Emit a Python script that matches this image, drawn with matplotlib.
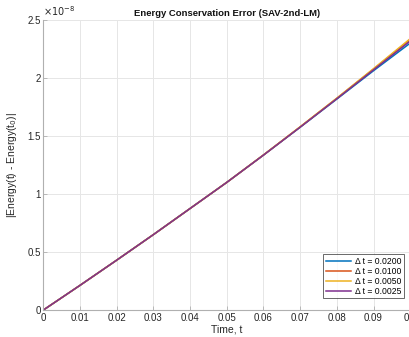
import matplotlib
matplotlib.use("Agg")
import matplotlib.pyplot as plt
from matplotlib.ticker import FuncFormatter, MultipleLocator

plt.rcParams['font.family'] = ['Liberation Sans', 'DejaVu Sans']

t = [0.0, 0.01, 0.02, 0.03, 0.04, 0.05, 0.06, 0.07, 0.08, 0.09, 0.10]
# values in units of 1e-8
err_dt0200 = [0.0, 0.213, 0.430, 0.650, 0.875, 1.100, 1.335, 1.575, 1.818, 2.062, 2.300]
err_dt0100 = [0.0, 0.213, 0.430, 0.650, 0.875, 1.100, 1.336, 1.578, 1.824, 2.076, 2.330]
err_dt0050 = [0.0, 0.213, 0.430, 0.650, 0.875, 1.100, 1.336, 1.579, 1.826, 2.080, 2.338]
err_dt0025 = [0.0, 0.213, 0.430, 0.650, 0.875, 1.100, 1.335, 1.576, 1.821, 2.070, 2.318]
labels = ['Δ t = 0.0200', 'Δ t = 0.0100', 'Δ t = 0.0050', 'Δ t = 0.0025']
colors = ['#0072BD', '#D95319', '#EDB120', '#7E2F8E']

fig = plt.figure(figsize=(4.09, 3.37), dpi=100)
ax = fig.add_axes([0.106, 0.080, 0.897, 0.861])

for y, lab, c in zip([err_dt0200, err_dt0100, err_dt0050, err_dt0025], labels, colors):
    ax.plot(t, y, color=c, lw=1.1, label=lab)

ax.set_xlim(0, 0.1)
ax.set_ylim(0, 2.5)
ax.xaxis.set_major_locator(MultipleLocator(0.01))
ax.yaxis.set_major_locator(MultipleLocator(0.5))
ax.xaxis.set_major_formatter(FuncFormatter(lambda v, p: '%g' % round(v, 4)))
ax.yaxis.set_major_formatter(FuncFormatter(lambda v, p: '%g' % round(v, 4)))
ax.grid(True, color='#e6e6e6', lw=0.7)
ax.set_axisbelow(True)
for s in ['top', 'right']:
    ax.spines[s].set_visible(False)
for s in ['left', 'bottom']:
    ax.spines[s].set_color('#b0b0b0')
    ax.spines[s].set_linewidth(0.8)
ax.tick_params(direction='in', length=3, width=0.6, color='#b0b0b0',
               labelsize=7, labelcolor='#262626', pad=2)

ax.set_title('Energy Conservation Error (SAV-2nd-LM)', fontsize=6.8,
             fontweight='bold', pad=3, color='#111111')
ax.set_xlabel('Time, t', fontsize=7.5, labelpad=1, color='#262626')
ax.set_ylabel(r'|Energy(t) - Energy(t$_0$)|', fontsize=7.5, labelpad=6, color='#262626')
ax.text(0.0, 1.005, r'$\times10^{-8}$', transform=ax.transAxes, fontsize=7,
        color='#262626', ha='left', va='bottom')

leg = ax.legend(loc='lower right', bbox_to_anchor=(0.983, 0.04), fontsize=6.2,
                frameon=True, fancybox=False, handlelength=3.0, borderpad=0.3,
                labelspacing=0.12, handletextpad=0.4, borderaxespad=0)
leg.get_frame().set_edgecolor('#262626')
leg.get_frame().set_linewidth(0.6)

fig.savefig('out.png', dpi=100)
